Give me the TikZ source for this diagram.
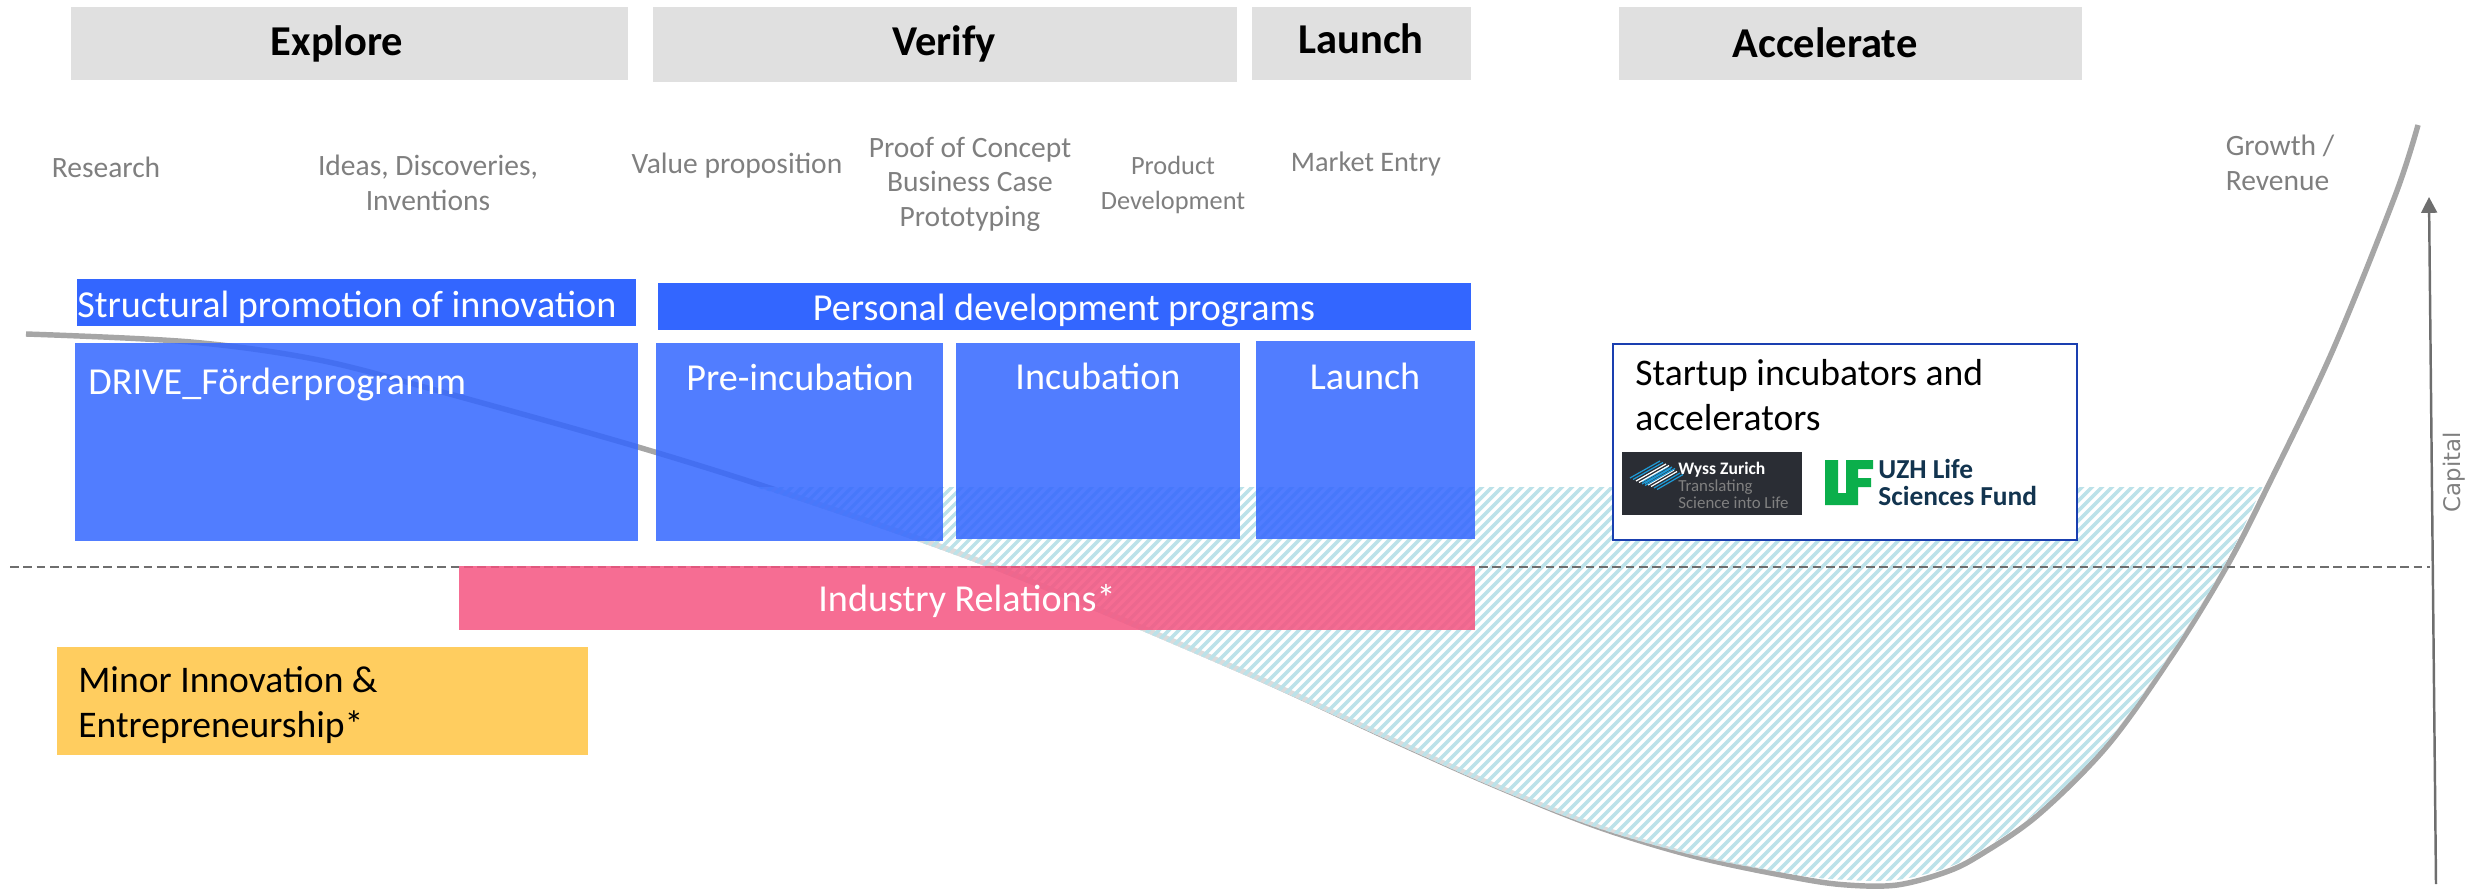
\documentclass[tikz,border=0pt]{standalone}
\usepackage{fontspec}
\setmainfont{Carlito}
\newfontfamily\capfont{DejaVu Sans}
\usetikzlibrary{arrows.meta}
\definecolor{phasegray}{HTML}{E0E0E0}
\definecolor{labelgray}{HTML}{7F7F7F}
\definecolor{curvegray}{HTML}{A6A6A6}
\definecolor{axisgray}{HTML}{6E6E6E}
\definecolor{barblue}{HTML}{3366FF}
\definecolor{framblue}{HTML}{1A3FB0}
\definecolor{rosepink}{HTML}{F55380}
\definecolor{minoryellow}{HTML}{FFCD5F}
\definecolor{hatchteal}{HTML}{BCE2E9}
\definecolor{wyssdark}{HTML}{2A2D34}
\definecolor{wyssblue}{HTML}{1E9AD6}
\definecolor{uzhgreen}{HTML}{0BAF4B}
\definecolor{uzhnavy}{HTML}{12344F}
\newcommand{\valleypath}{plot[smooth,tension=0.55] coordinates {(26,334) (191,342) (319,360) (446,393) (638,447) (797,497) (995,567) (1240,670) (1399,743) (1498,787) (1598,827) (1697,857) (1797,878) (1847,885) (1897,885) (1946,872) (1980,855) (2038,815) (2108,745) (2173,654) (2227,566) (2267,488) (2332,352) (2395,196) (2418,125)}}
\newcommand{\hatchpath}{plot[smooth,tension=0.55] coordinates {(700,472) (797,500) (995,570) (1240,673) (1399,745) (1498,789) (1598,828) (1697,856) (1797,875) (1847,880) (1897,880) (1946,868) (1980,851) (2038,811) (2108,741) (2173,650) (2225,564) (2263,486) (2300,410)}}
\tikzset{
    phasefill/.style={fill=phasegray},
    phasetext/.style={font=\fontsize{24.2}{29}\selectfont\bfseries,text=black,inner sep=0pt},
    stagetext/.style={font=\fontsize{16.8}{19.6}\selectfont,text=labelgray,align=center,inner sep=0pt},
    boxfill/.style={fill=barblue,fill opacity=0.85},
    whitetext/.style={font=\fontsize{21.7}{25}\selectfont,text=white,inner sep=0pt},
    blacktext/.style={font=\fontsize{21.4}{25.5}\selectfont,text=black,align=left,inner sep=0pt},
    logotext/.style={font=\fontsize{9.6}{10}\selectfont,anchor=west,inner sep=0pt},
    fundtext/.style={font=\fontsize{15.6}{16}\selectfont\bfseries,text=uzhnavy,anchor=west,inner sep=0pt},
    hatchline/.style={draw=hatchteal,line width=2pt},
}
\begin{document}
\begin{tikzpicture}[x=0.02cm,y=-0.02cm]
    \useasboundingbox (0,0) rectangle (2476,889);
    %% curve
    \draw[curvegray,line width=3.1pt] \valleypath;
    %% hatched area above the valley
    \begin{scope}
        \clip \hatchpath -- cycle;
        \clip (700,487) rectangle (2300,889);
        \fill[white,fill opacity=0.6] (700,487) rectangle (2300,889);
        \foreach \x in {300,310,...,2300} {
            \draw[hatchline] (\x,889) -- ++(420,-420);
        }
    \end{scope}
    %% dashed line
    \coordinate (dashleft) at (10,567);
    \coordinate (dashright) at (2430,567);
    \draw[axisgray,line width=0.8pt,dash pattern=on 5pt off 2.6pt] (dashleft) -- (dashright);
    %% capital axis
    \coordinate (axisbottom) at (2436,884);
    \coordinate (axistop) at (2429,197);
    \draw[axisgray,line width=1.4pt,-{Triangle[length=9pt,width=9pt]}] (axisbottom) -- (axistop);
    \node[font=\capfont\fontsize{13}{15}\selectfont,text=labelgray,rotate=90,inner sep=0pt] (capitallabel) at (2454,472) {Capital};
    %% phases
    \fill[phasefill] (71,7) rectangle (628,80);
    \fill[phasefill] (653,7) rectangle (1237,82);
    \fill[phasefill] (1252,7) rectangle (1471,80);
    \fill[phasefill] (1619,7) rectangle (2082,80);
    \node[phasetext] (explore) at (337,44) {Explore};
    \node[phasetext] (verify) at (944,44) {Verify};
    \node[phasetext] (launchphase) at (1361,39) {Launch};
    \node[phasetext] (accelerate) at (1825,43) {Accelerate};
    %% stages
    \node[stagetext] (research) at (106,167) {Research};
    \node[stagetext] (ideas) at (428,183) {Ideas, Discoveries,\\Inventions};
    \node[stagetext] (valueprop) at (737,166) {Value proposition};
    \node[stagetext] (proof) at (970,184) {Proof of Concept\\Business Case\\Prototyping};
    \node[stagetext,font=\fontsize{15}{19.6}\selectfont] (product) at (1173,185) {Product\\Development};
    \node[stagetext,font=\fontsize{16.1}{19.6}\selectfont] (market) at (1366,164) {Market Entry};
    \node[stagetext,align=left] (growth) at (2280,163) {Growth /\\Revenue};
    %% blue bars
    \fill[barblue] (77,279) rectangle (636,326);
    \fill[barblue] (658,283) rectangle (1471,330);
    \node[whitetext,anchor=west] (structural) at (77,307) {Structural promotion of innovation};
    \node[whitetext] (personal) at (1064,311) {Personal development programs};
    %% blue boxes
    \fill[boxfill] (75,343) rectangle (638,541);
    \fill[boxfill] (656,343) rectangle (943,541);
    \fill[boxfill] (956,343) rectangle (1240,539);
    \fill[boxfill] (1256,341) rectangle (1475,539);
    \node[whitetext,anchor=west] (drive) at (88,385) {DRIVE\_Förderprogramm};
    \node[whitetext] (preinc) at (800,377) {Pre-incubation};
    \node[whitetext] (incubation) at (1098,376) {Incubation};
    \node[whitetext] (launchbox) at (1365,376) {Launch};
    %% startup box with logos
    \fill[white] (1613,344) rectangle (2077,540);
    \draw[framblue,line width=1.1pt] (1613,344) rectangle (2077,540);
    \node[blacktext,anchor=north west] (startup) at (1635,359) {Startup incubators and\\accelerators};
    \fill[wyssdark] (1622,452) rectangle (1802,515);
    \foreach \i/\c in {0/wyssblue,1/wyssblue,2/white,3/white,4/wyssblue,5/wyssblue} {
        \draw[\c,line width=0.7pt] (1630+\i*3,478+\i*1.5) -- ++(30,-17);
        \draw[\c,line width=0.7pt] (1642+\i*3,482+\i*1.5) -- ++(26,-15);
    }
    \node[logotext,text=white,font=\fontsize{10}{11}\selectfont\bfseries] (wyss) at (1678,470) {Wyss Zurich};
    \node[logotext,text=gray] (translating) at (1678,487) {Translating};
    \node[logotext,text=gray] (scienceinto) at (1678,503) {Science into Life};
    \fill[uzhgreen] (1825,460) -- (1838,460) -- (1838,493) -- (1846,493) -- (1846,460) -- (1873,460) -- (1873,469) -- (1858,469) -- (1858,478) -- (1871,478) -- (1871,487) -- (1858,487) -- (1858,505) -- (1825,505) -- cycle;
    \node[fundtext] (uzhlife) at (1878,469) {UZH Life};
    \node[fundtext] (sciencesfund) at (1878,496) {Sciences Fund};
    %% industry relations
    \fill[rosepink,fill opacity=0.85] (459,566) rectangle (1475,630);
    \node[whitetext] (industry) at (967,601) {Industry Relations*};
    %% minor
    \fill[minoryellow] (57,647) rectangle (588,755);
    \node[blacktext,anchor=west] (minor) at (78,705) {Minor Innovation \&\\Entrepreneurship*};
\end{tikzpicture}
\end{document}
